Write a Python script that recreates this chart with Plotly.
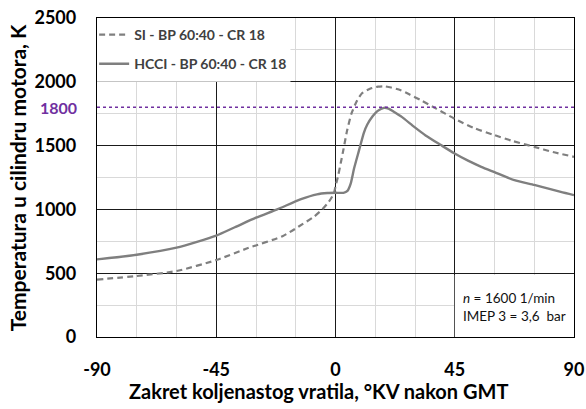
import plotly.graph_objects as go

# ---- data ----
si_x = [-90, -75, -60, -45, -33, -20, -14, -8, -5, -2.5, -0.6, 0, 1, 2, 3, 4.4, 6, 8.2, 10, 13.2, 16, 18.3,
        21, 24.6, 28, 32.2, 38, 44.8, 52, 60, 67, 75, 82, 90]
si_y = [450, 478, 517, 603, 697, 790, 864, 945, 1000, 1060, 1125, 1180, 1265, 1365, 1470, 1620, 1750, 1856,
        1910, 1947, 1962, 1965, 1955, 1934, 1900, 1856, 1790, 1712, 1640, 1582, 1535, 1490, 1450, 1412]

hcci_x = [-90, -75, -60, -45, -38, -30, -22, -13, -7, -3, 0, 3, 4.5, 5.7, 7, 8.9, 10.7, 12, 14, 15.8, 18.3,
          20, 22, 25, 29.7, 34, 39.8, 44.8, 50, 55, 60, 67.5, 75, 80, 85, 90]
hcci_y = [608, 645, 700, 795, 860, 935, 1000, 1080, 1118, 1128, 1130, 1130, 1145, 1200, 1320, 1464, 1600,
          1665, 1730, 1770, 1796, 1790, 1765, 1725, 1647, 1580, 1504, 1440, 1382, 1334, 1292, 1229, 1192,
          1165, 1137, 1112]

x_ticks = [-90, -45, 0, 45, 90]
y_ticks = [0, 500, 1000, 1500, 2000, 2500]
limit_value = 1800

series_names = ["SI - BP 60:40 - CR 18", "HCCI - BP 60:40 - CR 18"]
note_text = "<i>n</i> = 1600 1/min<br>IMEP 3 = 3,6  bar"

FONT = "Lato"
GREY = "#7f7f7f"
PURPLE = "#7030A0"

fig = go.Figure()
fig.add_trace(go.Scatter(x=si_x, y=si_y, mode="lines", name=series_names[0], legendgroup="a",
                         line=dict(color=GREY, width=2.2, dash="6px,4px", shape="spline", smoothing=0.6)))
fig.add_trace(go.Scatter(x=hcci_x, y=hcci_y, mode="lines", name=series_names[1], legendgroup="b",
                         line=dict(color=GREY, width=2.4, shape="spline", smoothing=0.6)))

# 1800 K reference line
fig.add_shape(type="line", xref="paper", x0=0, x1=1, yref="y", y0=limit_value, y1=limit_value,
              line=dict(color=PURPLE, width=1.5, dash="dot"), layer="above")

# white boxes behind legend and note (cover grid)
fig.add_shape(type="rect", xref="x", yref="y", x0=-90, x1=-17, y0=2000, y1=2500,
              fillcolor="white", line=dict(width=0), layer="between")
fig.add_shape(type="rect", xref="x", yref="y", x0=45, x1=90, y0=0, y1=485,
              fillcolor="white", line=dict(width=0), layer="between")

fig.add_annotation(x=47.5, y=232, xref="x", yref="y", text=note_text, showarrow=False,
                   xanchor="left", yanchor="middle", align="left",
                   font=dict(family=FONT, size=13.5, color="#111111"))

fig.add_annotation(xref="paper", x=-0.037, yref="y", y=limit_value, text="<b>1800</b>", showarrow=False,
                   xanchor="right", yanchor="middle", font=dict(family=FONT, size=16, color=PURPLE))

fig.add_annotation(xref="paper", x=-0.166, yref="paper", y=0.5, text="<b>Temperatura u cilindru motora, K</b>",
                   textangle=-90, showarrow=False, xanchor="center", yanchor="middle",
                   font=dict(family=FONT, size=21, color="black"))
fig.add_annotation(xref="paper", x=0.465, yref="paper", y=-0.17, text="<b>Zakret koljenastog vratila, °KV nakon GMT</b>",
                   showarrow=False, xanchor="center", yanchor="middle",
                   font=dict(family=FONT, size=20, color="black"))

axis_common = dict(showline=True, linecolor="black", linewidth=1.3, mirror=True,
                   gridcolor="#1a1a1a", gridwidth=1.1, zeroline=False, automargin=False,
                   ticks="", tickfont=dict(family=FONT, size=18, color="black", weight="bold"))

fig.update_xaxes(range=[-90, 90], tickvals=x_ticks, ticktext=[str(v) for v in x_ticks],
                 minor=dict(dtick=15, tick0=0, showgrid=True, gridcolor="#d9d9d9", gridwidth=1),
                 ticklabelstandoff=16, **axis_common)
fig.update_yaxes(range=[0, 2500], tickvals=y_ticks, ticktext=[str(v) for v in y_ticks],
                 minor=dict(dtick=250, tick0=0, showgrid=True, gridcolor="#d9d9d9", gridwidth=1),
                 ticklabelstandoff=16, **axis_common)

fig.update_layout(
    width=586, height=409,
    margin=dict(l=97, r=12, t=18, b=72, autoexpand=False),
    paper_bgcolor="white", plot_bgcolor="white",
    showlegend=True,
    legend=dict(x=-0.006, y=0.997, xanchor="left", yanchor="top", bgcolor="rgba(0,0,0,0)",
                traceorder="grouped", tracegroupgap=8, itemwidth=30,
                font=dict(family=FONT, size=14, color="#404040", weight="bold")),
)

fig.write_html("out.html", config={"displayModeBar": False},
               post_script="document.body.style.margin='0';document.body.style.overflow='hidden';")
